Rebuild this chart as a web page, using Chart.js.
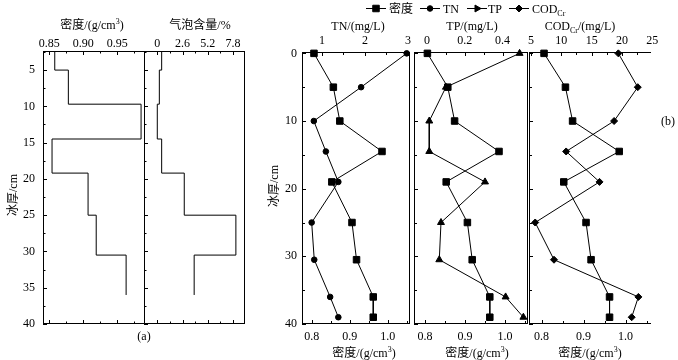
<!DOCTYPE html>
<html>
<head>
<meta charset="utf-8">
<script src="https://cdn.jsdelivr.net/npm/chart.js"></script>
<style>
  body { margin: 0; background: #fff; }
  #fig { position: relative; width: 678px; height: 360px; overflow: hidden;
         font-family: "Liberation Serif", "Noto Sans CJK SC", serif; font-size: 12px; color: #000; }
  #fig canvas { position: absolute; left: 0; top: 0; }
  .lab { position: absolute; white-space: nowrap; line-height: 1; transform: translate(-50%, -50%); }
  .key { position: absolute; white-space: nowrap; line-height: 1; transform: translateY(-50%); }
  .rot { transform: translate(-50%, -50%) rotate(-90deg); }
  sub, sup { font-size: 8px; line-height: 0; }
</style>
</head>
<body>
<div id="fig">
  <canvas id="a1" width="678" height="360"></canvas>
  <canvas id="a2" width="678" height="360"></canvas>
  <canvas id="b1" width="678" height="360"></canvas>
  <canvas id="b2" width="678" height="360"></canvas>
  <canvas id="b3" width="678" height="360"></canvas>

  <div class="lab" style="left:92px;top:25px">密度/(g/cm<sup>3</sup>)</div>
  <div class="lab" style="left:200px;top:25px">气泡含量/%</div>
  <div class="lab rot" style="left:13px;top:195px">冰厚/cm</div>
  <div class="lab" style="left:144px;top:336px">(a)</div>

  <div class="key" style="left:389px;top:9px">密度</div>
  <div class="key" style="left:443px;top:9px">TN</div>
  <div class="key" style="left:488px;top:9px">TP</div>
  <div class="key" style="left:532px;top:9px">COD<sub>Cr</sub></div>

  <div class="lab" style="left:358px;top:26px">TN/(mg/L)</div>
  <div class="lab" style="left:472px;top:26px">TP/(mg/L)</div>
  <div class="lab" style="left:580px;top:26px">COD<sub>Cr</sub>/(mg/L)</div>
  <div class="lab rot" style="left:274px;top:186px">冰厚/cm</div>
  <div class="lab" style="left:364px;top:353px">密度/(g/cm<sup>3</sup>)</div>
  <div class="lab" style="left:477px;top:353px">密度/(g/cm<sup>3</sup>)</div>
  <div class="lab" style="left:590px;top:353px">密度/(g/cm<sup>3</sup>)</div>
  <div class="lab" style="left:668px;top:121px">(b)</div>
</div>

<script>
// (a) layered profile: layer boundaries (cm) and the value of each layer
var layerDepth = [2.37, 5, 9.7, 14.5, 19.2, 25, 30.5, 36];
var layerDensity = [0.858, 0.878, 0.985, 0.854, 0.907, 0.919, 0.963];
var layerBubble = [0.45, 0.21, 0, 0.45, 2.78, 8.1, 3.8];

// (b) samples
var sampleDepth = [0, 5, 10, 14.5, 19, 25, 30.5, 36, 39];
var density = [0.806, 0.857, 0.874, 0.985, 0.853, 0.906, 0.918, 0.962, 0.962];
var tn = [2.97, 1.91, 0.81, 1.09, 1.38, 0.76, 0.82, 1.19, 1.38];
var tp = [0.49, 0.10, 0.012, 0.012, 0.307, 0.074, 0.065, 0.416, 0.51];
var cod = [19.4, 22.6, 18.7, 10.8, 16.3, 5.7, 8.8, 22.7, 21.6];

// tick labels
var depthTicksA = [5, 10, 15, 20, 25, 30, 35, 40];
var depthTicksB = [0, 10, 20, 30, 40];
var densityTicksA = [0.85, 0.90, 0.95];
var bubbleTicks = [0, 2.6, 5.2, 7.8];
var densityTicksB = [0.8, 0.9, 1.0];
var tnTicks = [1, 2, 3];
var tpTicks = [0, 0.2, 0.4];
var codTicks = [5, 10, 15, 20, 25];

var W = 678, H = 360;
var AX = 20, AY = 30; // room given to the axis boxes (labels are clipped to them)
var tickFont = { family: 'Liberation Serif', size: 12 };

function steps(from, to, step) {
    var out = [];
    for (var v = from; v <= to + 1e-9; v += step) out.push(+v.toFixed(4));
    return out;
}
function d1(v) { return v.toFixed(1); }
function d2(v) { return v.toFixed(2); }
function plain(v) { return String(v); }

function layerPoints(vals) {
    var pts = [];
    for (var i = 0; i < layerDepth.length; i++) {
        pts.push({ x: vals[Math.min(i, vals.length - 1)], y: layerDepth[i] });
    }
    return pts;
}
function samplePoints(vals) {
    return sampleDepth.map(function (d, i) { return { x: vals[i], y: d }; });
}

function xAxis(pos, min, max, labels, pad, fmt) {
    return {
        type: 'linear', position: pos, min: min, max: max,
        grid: { display: false, drawTicks: false }, border: { display: false },
        afterBuildTicks: function (s) { s.ticks = labels.map(function (v) { return { value: v }; }); },
        afterFit: function (s) { s.height = AX; },
        ticks: { display: true, padding: pad, font: tickFont, color: '#000', autoSkip: false, maxRotation: 0,
                 callback: function (v) { return fmt(v); } }
    };
}
function yAxis(min, max, labels, pad, show) {
    return {
        type: 'linear', position: 'left', reverse: true, min: min, max: max,
        grid: { display: false, drawTicks: false }, border: { display: false },
        afterBuildTicks: function (s) { s.ticks = labels.map(function (v) { return { value: v }; }); },
        afterFit: function (s) { s.width = AY; },
        ticks: { display: show, padding: pad, font: tickFont, color: '#000', autoSkip: false }
    };
}

function series(label, points, axis, style, r, stepped) {
    return {
        label: label, data: points, xAxisID: axis, yAxisID: 'y',
        showLine: true, stepped: stepped || false, clip: false,
        borderColor: '#000', borderWidth: 1, backgroundColor: '#000',
        pointStyle: style, pointRadius: r, pointBorderWidth: 1,
        pointBackgroundColor: '#000', pointBorderColor: '#000'
    };
}

// box outline and inward tick marks
function frame(sides, marks) {
    return {
        id: 'frame',
        beforeDatasetsDraw: function (chart) {
            var ctx = chart.ctx, a = chart.chartArea;
            ctx.save();
            ctx.strokeStyle = '#000';
            ctx.lineWidth = 1;
            ctx.beginPath();
            if (sides.indexOf('t') >= 0) { ctx.moveTo(a.left, a.top + 0.5); ctx.lineTo(a.right, a.top + 0.5); }
            if (sides.indexOf('b') >= 0) { ctx.moveTo(a.left, a.bottom - 0.5); ctx.lineTo(a.right, a.bottom - 0.5); }
            if (sides.indexOf('l') >= 0) { ctx.moveTo(a.left + 0.5, a.top); ctx.lineTo(a.left + 0.5, a.bottom); }
            if (sides.indexOf('r') >= 0) { ctx.moveTo(a.right - 0.5, a.top); ctx.lineTo(a.right - 0.5, a.bottom); }
            marks.forEach(function (m) {
                var s = chart.scales[m[0]], edge = m[1], len = m[2];
                m[3].forEach(function (v) {
                    if (v < s.min - 1e-9 || v > s.max + 1e-9) return;
                    var p = Math.round(s.getPixelForValue(v)) + 0.5;
                    if (edge === 't') { ctx.moveTo(p, a.top); ctx.lineTo(p, a.top + len); }
                    else if (edge === 'b') { ctx.moveTo(p, a.bottom); ctx.lineTo(p, a.bottom - len); }
                    else { ctx.moveTo(a.left, p); ctx.lineTo(a.left + len, p); }
                });
            });
            ctx.stroke();
            ctx.restore();
        }
    };
}

// legend symbols (text is html)
var keyPlugin = {
    id: 'keys',
    afterDraw: function (chart) {
        var ctx = chart.ctx, y = 8.5;
        var items = [
            { style: 'rect', r: 4.6, rot: 0, x: 376 },
            { style: 'circle', r: 2.8, rot: 0, x: 430 },
            { style: 'triangle', r: 4, rot: 90, x: 477 },
            { style: 'rectRot', r: 3.5, rot: 0, x: 519 }
        ];
        ctx.save();
        ctx.strokeStyle = '#000';
        ctx.fillStyle = '#000';
        ctx.lineWidth = 1;
        items.forEach(function (k) {
            ctx.beginPath();
            ctx.moveTo(k.x - 10, y);
            ctx.lineTo(k.x + 10, y);
            ctx.stroke();
            Chart.helpers.drawPoint(ctx, { pointStyle: k.style, radius: k.r, rotation: k.rot, borderWidth: 1 }, k.x, y);
        });
        ctx.restore();
    }
};

// box = chart area [left, top, right, bottom]; every panel has a top and a left axis box
function panel(id, box, scales, datasets, plugins) {
    var hasBottom = !!scales.x && scales.x.position === 'bottom';
    return new Chart(document.getElementById(id), {
        type: 'scatter',
        data: { datasets: datasets },
        options: {
            responsive: false, animation: false, devicePixelRatio: 1, events: [],
            layout: { autoPadding: false, padding: {
                left: box[0] - AY, top: box[1] - AX,
                right: W - box[2], bottom: H - box[3] - (hasBottom ? AX : 0) } },
            plugins: { legend: { display: false }, tooltip: { enabled: false } },
            scales: scales
        },
        plugins: plugins
    });
}

var depthMinorA = steps(2.5, 37.5, 5);
var depthMinorB = steps(5, 35, 10);
var densMinorB = steps(0.85, 1.05, 0.1);

// (a) density layers
panel('a1', [43, 51, 144, 324], {
    xt: xAxis('top', 0.8407, 0.9893, densityTicksA, 0, d2),
    y: yAxis(2.37, 40, depthTicksA, 8, true)
}, [series('密度', layerPoints(layerDensity), 'xt', 'circle', 0, 'after')],
[frame('tbl', [
    ['xt', 't', 4, densityTicksA], ['xt', 't', 2.5, steps(0.875, 0.975, 0.05)],
    ['xt', 'b', 4, densityTicksA], ['xt', 'b', 2.5, steps(0.875, 0.975, 0.05)],
    ['y', 'l', 4, depthTicksA], ['y', 'l', 2.5, depthMinorA]
])]);

// (a) bubble content layers
panel('a2', [144, 51, 245, 324], {
    xt: xAxis('top', -1.37, 9.04, bubbleTicks, 0, plain),
    y: yAxis(2.37, 40, depthTicksA, 8, false)
}, [series('气泡含量', layerPoints(layerBubble), 'xt', 'circle', 0, 'after')],
[frame('tblr', [
    ['xt', 't', 4, bubbleTicks], ['xt', 't', 2.5, steps(1.3, 6.5, 2.6)],
    ['xt', 'b', 4, bubbleTicks], ['xt', 'b', 2.5, steps(1.3, 6.5, 2.6)],
    ['y', 'l', 4, depthTicksA], ['y', 'l', 2.5, depthMinorA]
])]);

// (b) density + TN
panel('b1', [302, 52, 410, 324], {
    x: xAxis('bottom', 0.7745, 1.0587, densityTicksB, 6, d1),
    xt: xAxis('top', 0.535, 3.047, tnTicks, 4, plain),
    y: yAxis(-0.2, 40, depthTicksB, 5, true)
}, [
    series('密度', samplePoints(density), 'x', 'rect', 4.6),
    series('TN', samplePoints(tn), 'xt', 'circle', 2.8)
], [frame('tblr', [
    ['xt', 't', 4, tnTicks], ['xt', 't', 3, [1.5, 2.5]],
    ['x', 'b', 4, densityTicksB], ['x', 'b', 3, densMinorB],
    ['y', 'l', 4, depthTicksB], ['y', 'l', 3, depthMinorB]
]), keyPlugin]);

// (b) density + TP
panel('b2', [414, 52, 528, 324], {
    x: xAxis('bottom', 0.7725, 1.0575, densityTicksB, 6, d1),
    xt: xAxis('top', -0.0688, 0.5344, tpTicks, 4, plain),
    y: yAxis(-0.2, 40, depthTicksB, 5, false)
}, [
    series('密度', samplePoints(density), 'x', 'rect', 4.6),
    series('TP', samplePoints(tp), 'xt', 'triangle', 4)
], [frame('tblr', [
    ['xt', 't', 4, tpTicks], ['xt', 't', 3, [0.1, 0.3, 0.5]],
    ['x', 'b', 4, densityTicksB], ['x', 'b', 3, densMinorB],
    ['y', 'l', 4, depthTicksB], ['y', 'l', 3, depthMinorB]
])]);

// (b) density + COD
panel('b3', [529, 52, 651, 324], {
    x: xAxis('bottom', 0.7702, 1.0607, densityTicksB, 6, d1),
    xt: xAxis('top', 4.68, 24.78, codTicks, 4, plain),
    y: yAxis(-0.2, 40, depthTicksB, 5, false)
}, [
    series('密度', samplePoints(density), 'x', 'rect', 4.6),
    series('CODCr', samplePoints(cod), 'xt', 'rectRot', 3.5)
], [frame('tbl', [
    ['xt', 't', 4, codTicks], ['xt', 't', 3, steps(7.5, 22.5, 5)],
    ['x', 'b', 4, densityTicksB], ['x', 'b', 3, densMinorB],
    ['y', 'l', 4, depthTicksB], ['y', 'l', 3, depthMinorB]
])]);
</script>
</body>
</html>
